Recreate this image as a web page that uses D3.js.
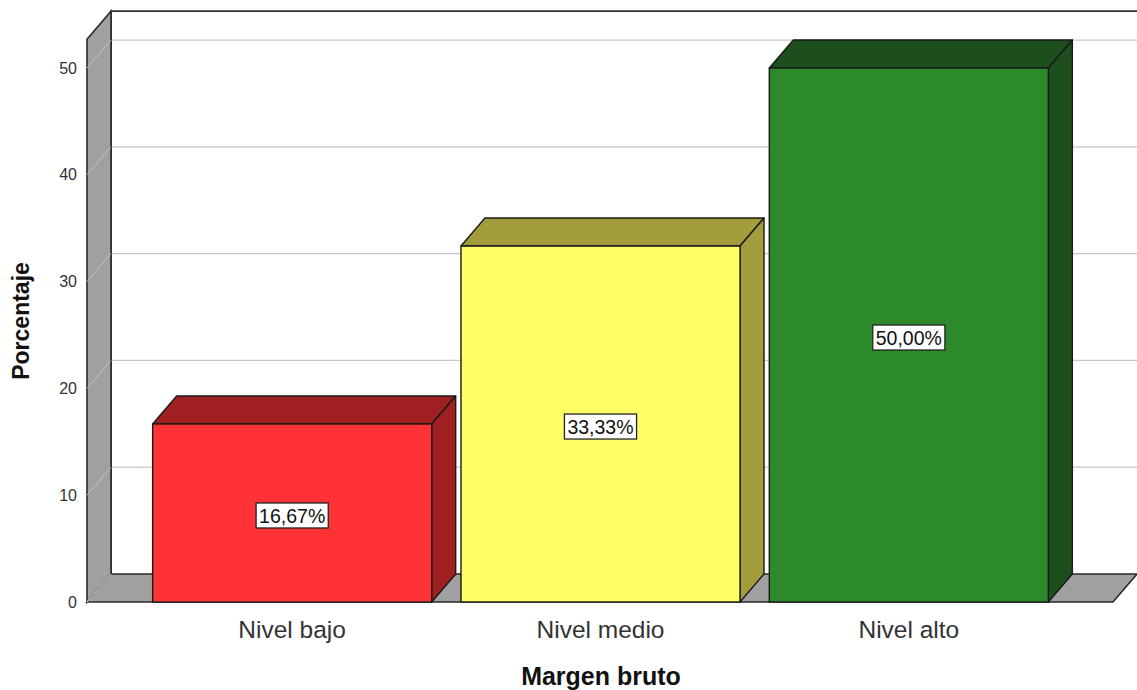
<!DOCTYPE html>
<html>
<head>
<meta charset="utf-8">
<script src="https://cdn.jsdelivr.net/npm/d3@7"></script>
<style>
  html, body { margin: 0; padding: 0; background: #fff; }
  svg { display: block; font-family: Arial, "Liberation Sans", sans-serif; }
</style>
</head>
<body>
<svg id="chart" width="1137" height="690"></svg>
<script>
// Frequency of gross-margin levels (percent of cases)
const categories = ["Nivel bajo", "Nivel medio", "Nivel alto"];
const percentages = [16.67, 33.33, 50.00];
const valueLabels = ["16,67%", "33,33%", "50,00%"];
const yTicks = [0, 10, 20, 30, 40, 50];
const frontColors = ["#FF3336", "#FFFF66", "#2D8A2A"];
const shadeColors = ["#A01F20", "#A29C3C", "#1C4F1B"];

const svg = d3.select("#chart");

// Front plane of the 3D box and the depth offset toward the back wall
const front = { left: 87, right: 1113, bottom: 602 };
const depth = { dx: 24, dy: -28 };

const y = d3.scaleLinear().domain([0, 52.7]).range([front.bottom, front.bottom - 562.8]);
const x = d3.scaleBand().domain(categories).range([138, 1063])
  .paddingInner(0.095).paddingOuter(0.0475);

const yTop = y.domain()[1];
const line = d3.line();

// Back wall
const backG = svg.append("g");
backG.append("rect")
  .attr("x", front.left + depth.dx).attr("y", y(yTop) + depth.dy)
  .attr("width", front.right - front.left + 10)
  .attr("height", y(0) - y(yTop))
  .attr("fill", "#fff");

// Grid lines on back wall
backG.selectAll("line.grid").data(yTicks.filter(d => d > 0)).join("line")
  .attr("class", "grid")
  .attr("x1", front.left + depth.dx).attr("x2", front.right + depth.dx)
  .attr("y1", d => y(d) + depth.dy).attr("y2", d => y(d) + depth.dy)
  .attr("stroke", "#C8C8C8").attr("stroke-width", 1.2);

// Top edge and left edge of back wall
backG.append("path")
  .attr("d", line([[front.left + depth.dx, y(0) + depth.dy], [front.left + depth.dx, y(yTop) + depth.dy], [1137, y(yTop) + depth.dy]]))
  .attr("fill", "none").attr("stroke", "#333").attr("stroke-width", 1.8);

// Left side wall
const sideG = svg.append("g");
sideG.append("path")
  .attr("d", line([
    [front.left, y(yTop)], [front.left + depth.dx, y(yTop) + depth.dy],
    [front.left + depth.dx, y(0) + depth.dy], [front.left, y(0)]
  ]) + "Z")
  .attr("fill", "#A0A0A0").attr("stroke", "#2a2a2a").attr("stroke-width", 1.6);

sideG.selectAll("line.sgrid").data(yTicks.filter(d => d > 0)).join("line")
  .attr("class", "sgrid")
  .attr("x1", front.left).attr("x2", front.left + depth.dx)
  .attr("y1", d => y(d)).attr("y2", d => y(d) + depth.dy)
  .attr("stroke", "#C4C4C4").attr("stroke-width", 1);

// Floor
const floorG = svg.append("g");
floorG.append("path")
  .attr("d", line([
    [front.left, y(0)], [front.left + depth.dx, y(0) + depth.dy],
    [front.right + depth.dx, y(0) + depth.dy], [front.right, y(0)]
  ]) + "Z")
  .attr("fill", "#A0A0A0").attr("stroke", "#2a2a2a").attr("stroke-width", 1.6);
floorG.append("line")
  .attr("x1", front.left).attr("y1", y(0))
  .attr("x2", front.left + depth.dx).attr("y2", y(0) + depth.dy)
  .attr("stroke", "#C4C4C4").attr("stroke-width", 1.2);

// Bars
const barG = svg.append("g");
const bars = barG.selectAll("g.bar").data(categories).join("g").attr("class", "bar");

bars.each(function (cat, i) {
  const g = d3.select(this);
  const x0 = x(cat), x1 = x(cat) + x.bandwidth();
  const yv = y(percentages[i]), y0 = y(0);
  const { dx, dy } = depth;
  // top face
  g.append("path")
    .attr("d", line([[x0, yv], [x0 + dx, yv + dy], [x1 + dx, yv + dy], [x1, yv]]) + "Z")
    .attr("fill", shadeColors[i]).attr("stroke", "#1a1a1a").attr("stroke-width", 1.4)
    .attr("stroke-linejoin", "round");
  // right face
  g.append("path")
    .attr("d", line([[x1, yv], [x1 + dx, yv + dy], [x1 + dx, y0 + dy], [x1, y0]]) + "Z")
    .attr("fill", shadeColors[i]).attr("stroke", "#1a1a1a").attr("stroke-width", 1.4)
    .attr("stroke-linejoin", "round");
  // front face
  g.append("rect")
    .attr("x", x0).attr("y", yv)
    .attr("width", x1 - x0).attr("height", y0 - yv)
    .attr("fill", frontColors[i]).attr("stroke", "#1a1a1a").attr("stroke-width", 1.4);
});

// Value labels
const labelG = svg.append("g");
categories.forEach((cat, i) => {
  const cx = x(cat) + x.bandwidth() / 2;
  const cy = y(percentages[i] / 2) + 3;
  const t = labelG.append("text")
    .attr("x", cx).attr("y", cy)
    .attr("text-anchor", "middle").attr("dominant-baseline", "central")
    .attr("font-size", 19.5).attr("fill", "#111")
    .text(valueLabels[i]);
  const bb = t.node().getBBox();
  labelG.insert("rect", "text")
    .attr("x", bb.x - 3).attr("y", bb.y - 2)
    .attr("width", bb.width + 6).attr("height", bb.height + 3)
    .attr("fill", "#fff").attr("stroke", "#222").attr("stroke-width", 1.3);
});

// Y axis tick labels
svg.append("g").selectAll("text").data(yTicks).join("text")
  .attr("x", 77).attr("y", d => y(d))
  .attr("text-anchor", "end").attr("dominant-baseline", "central")
  .attr("font-size", 16).attr("fill", "#333")
  .text(d => d);

// Category labels
svg.append("g").selectAll("text").data(categories).join("text")
  .attr("x", d => x(d) + x.bandwidth() / 2).attr("y", 629)
  .attr("text-anchor", "middle").attr("dominant-baseline", "central")
  .attr("font-size", 24.5).attr("fill", "#333")
  .text(d => d);

// Axis titles
svg.append("text")
  .attr("x", 601).attr("y", 676)
  .attr("text-anchor", "middle").attr("dominant-baseline", "central")
  .attr("font-size", 25).attr("font-weight", "bold").attr("fill", "#111")
  .text("Margen bruto");

svg.append("text")
  .attr("transform", "translate(21,321) rotate(-90)")
  .attr("text-anchor", "middle").attr("dominant-baseline", "central")
  .attr("font-size", 23).attr("font-weight", "bold").attr("fill", "#111")
  .text("Porcentaje");
</script>
</body>
</html>
